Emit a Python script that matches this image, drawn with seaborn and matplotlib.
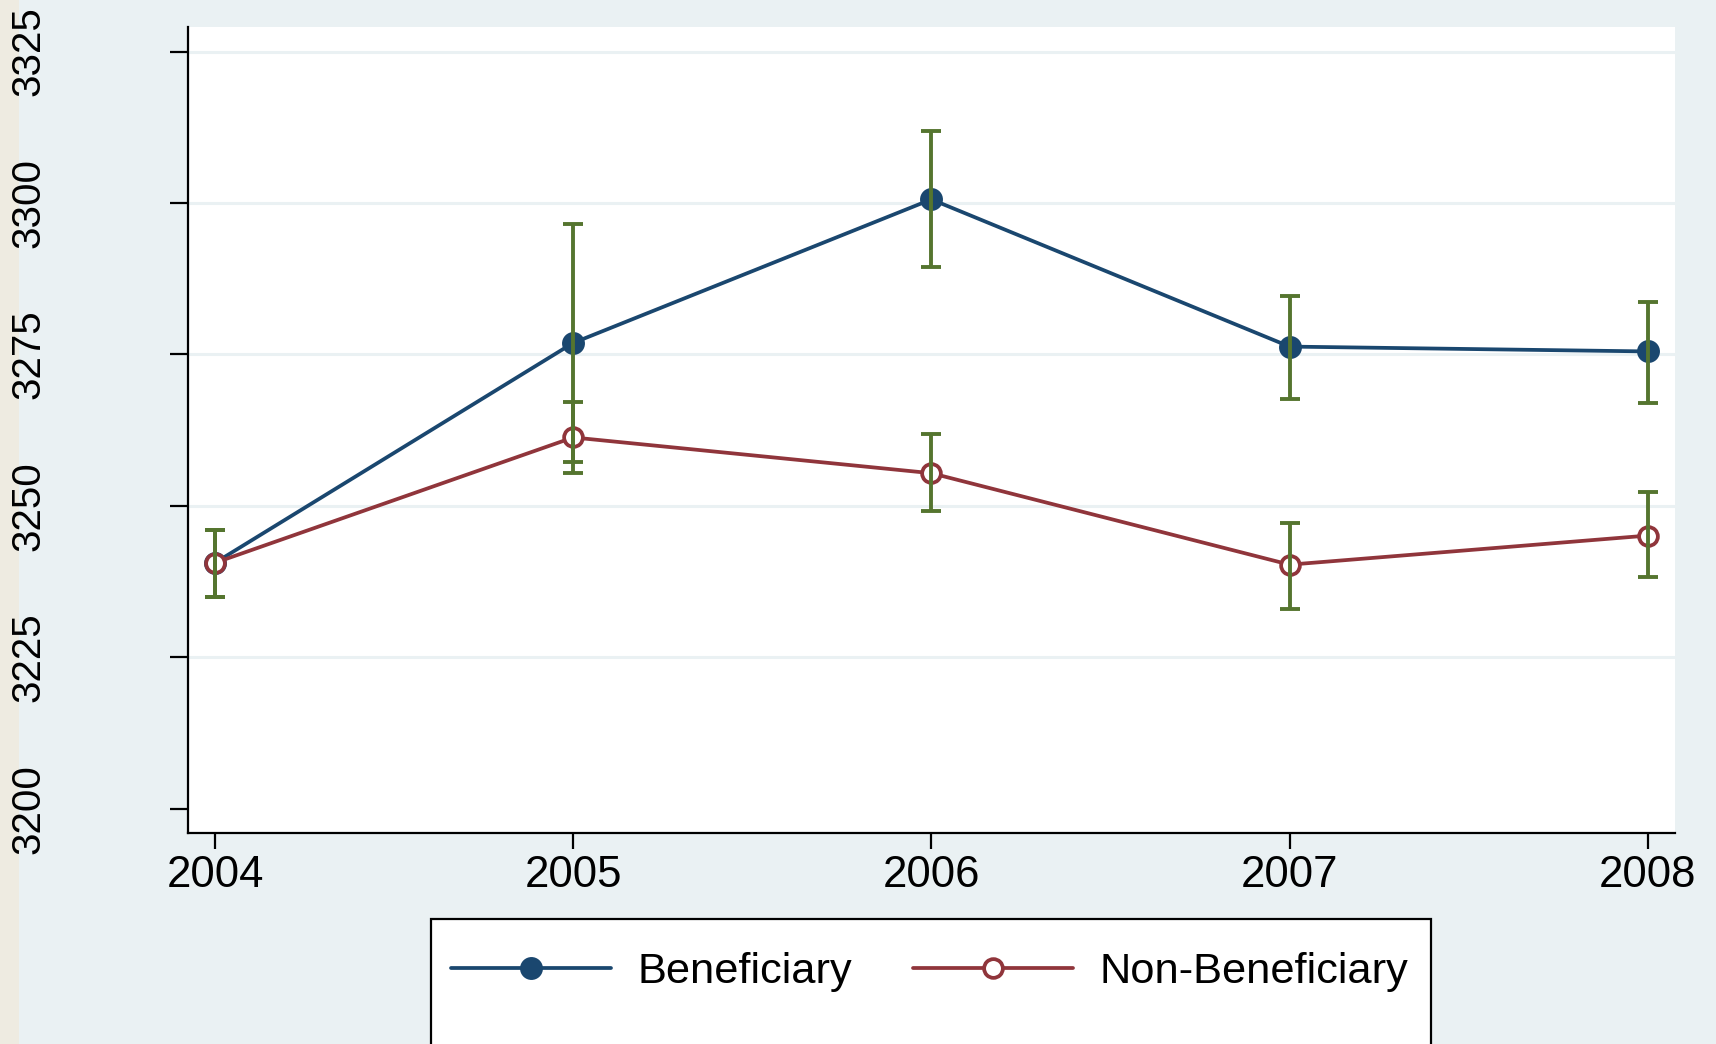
import pandas as pd
import numpy as np
import matplotlib.pyplot as plt
import seaborn as sns
from matplotlib.patches import Rectangle

# -----------------------------
# Data
# -----------------------------
years = [2004, 2005, 2006, 2007, 2008]

ben_mean = [3240.6, 3276.9, 3300.6, 3276.3, 3275.5]
ben_low = [3235.0, 3257.3, 3289.5, 3267.7, 3267.0]
ben_high = [3246.0, 3296.5, 3311.9, 3284.7, 3283.6]

non_mean = [3240.6, 3261.3, 3255.4, 3240.3, 3245.1]
non_low = [3235.0, 3255.4, 3249.1, 3233.0, 3238.2]
non_high = [3246.0, 3267.2, 3261.8, 3247.1, 3252.3]

y_ticks = [3200, 3225, 3250, 3275, 3300, 3325]
grid_lines = [3225, 3250, 3275, 3300, 3325]

# -----------------------------
# Style
# -----------------------------
sns.set_style("white")
plt.rcParams["font.family"] = ["Liberation Sans", "DejaVu Sans"]
plt.rcParams["text.color"] = "black"
plt.rcParams["xtick.color"] = "black"
plt.rcParams["ytick.color"] = "black"

navy = "#1A476F"
maroon = "#90353B"
green = "#55752F"
bg = "#EAF1F3"

fig = plt.figure(figsize=(17.16, 10.44), dpi=100)
fig.patch.set_facecolor(bg)
ax = fig.add_axes([0.1094, 0.2021, 0.9761 - 0.1094, 0.9738 - 0.2021])
ax.set_facecolor("white")

# beige strip on the far left
fig.add_artist(Rectangle((0, 0), 19 / 1716, 1, transform=fig.transFigure,
                         facecolor="#EEEBE1", edgecolor="none", zorder=-1))

df = pd.DataFrame({
    "year": years + years,
    "value": ben_mean + non_mean,
    "group": ["Beneficiary"] * 5 + ["Non-Beneficiary"] * 5,
})

# -----------------------------
# Lines
# -----------------------------
sns.lineplot(
    data=df[df["group"] == "Beneficiary"], x="year", y="value",
    color=navy, lw=2.7, marker="o", markersize=16.5,
    markeredgewidth=0, label="Beneficiary", ax=ax, zorder=3,
)
sns.lineplot(
    data=df[df["group"] == "Non-Beneficiary"], x="year", y="value",
    color=maroon, lw=2.7, marker="o", markersize=13.5,
    markerfacecolor="white", markeredgecolor=maroon, markeredgewidth=2.7,
    label="Non-Beneficiary", ax=ax, zorder=4,
)

# -----------------------------
# Error bars
# -----------------------------
for mean, low, high in [(ben_mean, ben_low, ben_high),
                        (non_mean, non_low, non_high)]:
    mean = np.array(mean)
    err = [mean - np.array(low), np.array(high) - mean]
    ax.errorbar(years, mean, yerr=err, fmt="none", ecolor=green,
                elinewidth=2.8, capsize=7.5, capthick=2.8, zorder=5)

# -----------------------------
# Axes
# -----------------------------
for g in grid_lines:
    ax.axhline(g, color=bg, lw=2.2, zorder=1)

ax.set_xlim(2003.924, 2008.076)
ax.set_ylim(3196.0, 3329.0)
ax.set_xticks(years)
ax.set_yticks(y_ticks)
ax.set_xlabel("")
ax.set_ylabel("")

for s in ["top", "right"]:
    ax.spines[s].set_visible(False)
for s in ["left", "bottom"]:
    ax.spines[s].set_color("black")
    ax.spines[s].set_linewidth(1.6)

ax.tick_params(axis="x", direction="out", length=11.5, width=1.6,
               labelsize=31.5, pad=4, bottom=True, color="black",
               labelcolor="black")
ax.tick_params(axis="y", direction="out", length=13, width=1.6,
               labelsize=29, pad=88, left=True, color="black",
               labelcolor="black")
for lab in ax.get_yticklabels():
    lab.set_rotation(90)
    lab.set_va("center")

# -----------------------------
# Legend
# -----------------------------
ax.get_legend().remove()
handles, labels = ax.get_legend_handles_labels()
fig.add_artist(Rectangle((431 / 1716, -0.1), 1000 / 1716, 0.1 + 0.1197,
                         transform=fig.transFigure, facecolor="white",
                         edgecolor="black", lw=1.6, zorder=2))
leg = fig.legend(handles, labels, loc="center left",
                 bbox_to_anchor=(451 / 1716, 0.0685), ncol=2,
                 frameon=False, fontsize=31.2, handlelength=3.7,
                 handletextpad=0.6, columnspacing=1.4, numpoints=1,
                 borderpad=0, borderaxespad=0)
for t in leg.get_texts():
    t.set_color("black")
leg.set_zorder(3)

plt.savefig("out.png", dpi=100, facecolor=fig.get_facecolor())
plt.close()
